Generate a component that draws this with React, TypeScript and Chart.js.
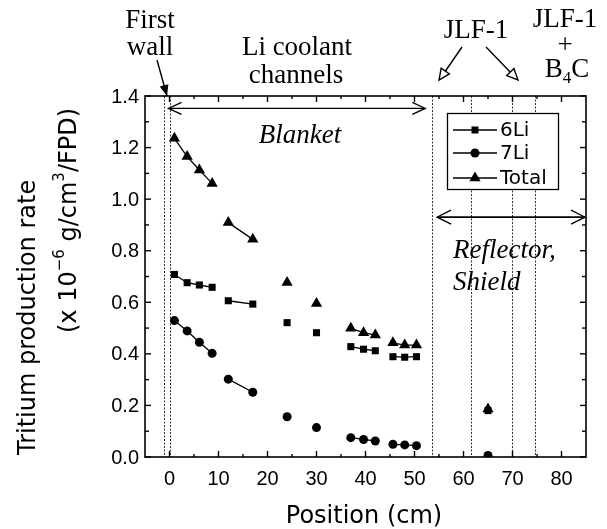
import React, { useEffect, useRef } from 'react';
import { Chart, registerables } from 'chart.js';

Chart.register(...registerables);

// ---- data ----
const positions = [1, 3.6, 6.1, 8.7, 12, 17, 24, 30, 37, 39.6, 42, 45.6, 48, 50.4, 65];
const segments = [0, 0, 0, 0, 1, 1, 2, 3, 4, 4, 4, 5, 5, 5, 6];
const li6Values = [0.708, 0.676, 0.667, 0.658, 0.606, 0.593, 0.521, 0.482, 0.428, 0.418, 0.412, 0.389, 0.387, 0.389, 0.18];
const li7Values = [0.529, 0.489, 0.445, 0.402, 0.302, 0.251, 0.156, 0.114, 0.075, 0.068, 0.062, 0.049, 0.047, 0.044, 0.006];
const totalValues = [1.236, 1.165, 1.113, 1.061, 0.909, 0.844, 0.677, 0.595, 0.499, 0.482, 0.473, 0.443, 0.434, 0.434, 0.186];
const seriesNames = ['6Li', '7Li', 'Total'];

const xTickValues = [0, 10, 20, 30, 40, 50, 60, 70, 80];
const xMinorValues = [5, 15, 25, 35, 45, 55, 65, 75];
const yTickValues = [0, 0.2, 0.4, 0.6, 0.8, 1.0, 1.2, 1.4];
const yMinorValues = [0.1, 0.3, 0.5, 0.7, 0.9, 1.1, 1.3];
const boundaryLines = [-1.1, 0.1, 53.6, 61.5, 69.8, 74.5];
const blanketSpan = [-0.2, 52.2];
const blanketLevel = 1.352;
const reflectorSpan = [54.6, 84.8];
const reflectorLevel = 0.93;

const X_MIN = -5;
const X_MAX = 85;
const Y_MIN = 0;
const Y_MAX = 1.4;

function buildPoints(values: number[]) {
  const pts: { x: number; y: number | null }[] = [];
  values.forEach((v, i) => {
    if (i > 0 && segments[i] !== segments[i - 1]) {
      pts.push({ x: (positions[i] + positions[i - 1]) / 2, y: null });
    }
    pts.push({ x: positions[i], y: v });
  });
  return pts;
}

const SERIF = '"Liberation Serif", "Times New Roman", serif';
const SANS = '"DejaVu Sans", sans-serif';
const TICKFONT = '"Liberation Sans", Arial, sans-serif';

function drawMarker(ctx: CanvasRenderingContext2D, style: string, x: number, y: number) {
  ctx.fillStyle = '#000';
  ctx.beginPath();
  if (style === 'rect') {
    ctx.rect(x - 3.5, y - 3.5, 7, 7);
  } else if (style === 'circle') {
    ctx.arc(x, y, 4.5, 0, Math.PI * 2);
  } else {
    const r = 6.5;
    ctx.moveTo(x, y - r);
    ctx.lineTo(x + r * Math.sin(Math.PI / 3), y + r * 0.5);
    ctx.lineTo(x - r * Math.sin(Math.PI / 3), y + r * 0.5);
    ctx.closePath();
  }
  ctx.fill();
}

function arrowHead(ctx: CanvasRenderingContext2D, fx: number, fy: number, tx: number, ty: number, len: number, half: number, mode: 'open' | 'filled' | 'hollow') {
  const ang = Math.atan2(ty - fy, tx - fx);
  const bx = tx - Math.cos(ang) * len;
  const by = ty - Math.sin(ang) * len;
  const px = -Math.sin(ang) * half;
  const py = Math.cos(ang) * half;
  ctx.beginPath();
  if (mode === 'open') {
    ctx.moveTo(bx + px, by + py);
    ctx.lineTo(tx, ty);
    ctx.lineTo(bx - px, by - py);
    ctx.stroke();
  } else {
    ctx.moveTo(bx + px, by + py);
    ctx.lineTo(tx, ty);
    ctx.lineTo(bx - px, by - py);
    ctx.closePath();
    if (mode === 'filled') {
      ctx.fillStyle = '#000';
      ctx.fill();
    } else {
      ctx.fillStyle = '#fff';
      ctx.fill();
      ctx.stroke();
    }
  }
}

const overlay = {
  id: 'overlay',
  beforeDatasetsDraw(chart: any) {
    const { ctx, chartArea: a } = chart;
    const xs = chart.scales.x;
    ctx.save();
    ctx.strokeStyle = '#333';
    ctx.lineWidth = 1;
    ctx.setLineDash([2, 1.5]);
    boundaryLines.forEach((v) => {
      const px = Math.round(xs.getPixelForValue(v)) + 0.5;
      ctx.beginPath();
      ctx.moveTo(px, a.top);
      ctx.lineTo(px, a.bottom);
      ctx.stroke();
    });
    ctx.restore();
  },
  afterDraw(chart: any) {
    const { ctx, chartArea: a } = chart;
    const xs = chart.scales.x;
    const ys = chart.scales.y;
    ctx.save();
    ctx.strokeStyle = '#000';
    ctx.fillStyle = '#000';
    ctx.setLineDash([]);

    // frame
    ctx.lineWidth = 1.6;
    ctx.strokeRect(a.left, a.top, a.right - a.left, a.bottom - a.top);

    // ticks (inward, all four sides)
    ctx.lineWidth = 1.4;
    const tick = (x1: number, y1: number, x2: number, y2: number) => {
      ctx.beginPath();
      ctx.moveTo(x1, y1);
      ctx.lineTo(x2, y2);
      ctx.stroke();
    };
    xTickValues.forEach((v) => {
      const p = xs.getPixelForValue(v);
      tick(p, a.bottom, p, a.bottom - 6);
      tick(p, a.top, p, a.top + 6);
    });
    xMinorValues.forEach((v) => {
      const p = xs.getPixelForValue(v);
      tick(p, a.bottom, p, a.bottom - 3);
      tick(p, a.top, p, a.top + 3);
    });
    yTickValues.forEach((v) => {
      const p = ys.getPixelForValue(v);
      tick(a.left, p, a.left + 6, p);
      tick(a.right, p, a.right - 6, p);
    });
    yMinorValues.forEach((v) => {
      const p = ys.getPixelForValue(v);
      tick(a.left, p, a.left + 4, p);
      tick(a.right, p, a.right - 4, p);
    });

    // tick labels
    ctx.font = `20px ${TICKFONT}`;
    ctx.textAlign = 'center';
    ctx.textBaseline = 'middle';
    xTickValues.forEach((v) => {
      ctx.fillText(String(v), xs.getPixelForValue(v), a.bottom + 22);
    });
    ctx.textAlign = 'right';
    yTickValues.forEach((v) => {
      ctx.fillText(v.toFixed(1), a.left - 6, ys.getPixelForValue(v) + 1);
    });

    // x title
    ctx.font = `24px ${SANS}`;
    ctx.textAlign = 'center';
    ctx.textBaseline = 'alphabetic';
    ctx.fillText('Position (cm)', 364, 523);

    // y title (rotated)
    ctx.save();
    ctx.translate(35, 0);
    ctx.rotate(-Math.PI / 2);
    ctx.textAlign = 'left';
    ctx.font = `24px ${SANS}`;
    ctx.fillText('Tritium production rate', -455, 0);
    ctx.restore();

    ctx.save();
    ctx.translate(76, 0);
    ctx.rotate(-Math.PI / 2);
    ctx.textAlign = 'left';
    let cx = -333;
    const piece = (t: string, size: number, dy: number) => {
      ctx.font = `${size}px ${SANS}`;
      ctx.fillText(t, cx, dy);
      cx += ctx.measureText(t).width;
    };
    piece('(x 10', 24, 0);
    piece('\u22126', 15, -12);
    piece(' g/cm', 24, 0);
    piece('3', 15, -12);
    piece('/FPD)', 24, 0);
    ctx.restore();

    // annotations above plot
    ctx.font = `27px ${SERIF}`;
    ctx.textAlign = 'center';
    ctx.fillText('First', 150, 28);
    ctx.fillText('wall', 150, 55);
    ctx.fillText('Li coolant', 297, 55);
    ctx.fillText('channels', 296, 83);
    ctx.fillText('JLF-1', 476, 38);
    ctx.fillText('JLF-1', 565, 27);
    ctx.fillText('+', 565, 53);
    // B4C with subscript
    ctx.textAlign = 'left';
    const bW = ctx.measureText('B').width;
    ctx.font = `17px ${SERIF}`;
    const sW = ctx.measureText('4').width;
    ctx.font = `27px ${SERIF}`;
    const cW = ctx.measureText('C').width;
    let bx = 567 - (bW + sW + cW) / 2;
    ctx.fillText('B', bx, 77);
    bx += bW;
    ctx.font = `17px ${SERIF}`;
    ctx.fillText('4', bx, 83);
    bx += sW;
    ctx.font = `27px ${SERIF}`;
    ctx.fillText('C', bx, 77);

    // arrows
    ctx.lineWidth = 1.4;
    ctx.strokeStyle = '#000';
    tick(157, 60, 167, 96);
    arrowHead(ctx, 157, 60, 167, 96, 11, 4.5, 'filled');
    tick(462, 47, 442, 76);
    arrowHead(ctx, 462, 47, 439, 80, 11, 5, 'hollow');
    tick(486, 47, 515, 77);
    arrowHead(ctx, 486, 47, 518, 80, 11, 5, 'hollow');

    // blanket double arrow
    const by1 = ys.getPixelForValue(blanketLevel);
    const bl = xs.getPixelForValue(blanketSpan[0]);
    const br = xs.getPixelForValue(blanketSpan[1]);
    ctx.lineWidth = 1.3;
    tick(bl, by1, br, by1);
    arrowHead(ctx, br, by1, bl, by1, 13, 6, 'open');
    arrowHead(ctx, bl, by1, br, by1, 13, 6, 'open');

    // reflector double arrow
    const ry = ys.getPixelForValue(reflectorLevel);
    const rl = xs.getPixelForValue(reflectorSpan[0]);
    const rr = xs.getPixelForValue(reflectorSpan[1]);
    ctx.lineWidth = 1.8;
    tick(rl, ry, rr, ry);
    ctx.lineWidth = 1.3;
    arrowHead(ctx, rr, ry, rl, ry, 14, 7, 'open');
    arrowHead(ctx, rl, ry, rr, ry, 14, 7, 'open');

    // italic labels
    ctx.fillStyle = '#000';
    ctx.font = `italic 27px ${SERIF}`;
    ctx.textAlign = 'center';
    ctx.fillText('Blanket', 300, 143);
    ctx.textAlign = 'left';
    ctx.fillText('Reflector,', 453, 258);
    ctx.fillText('Shield', 453, 290);

    // legend
    const lx = 447.5, ly = 113.5, lw = 111, lh = 76;
    ctx.fillStyle = '#fff';
    ctx.fillRect(lx, ly, lw, lh);
    ctx.lineWidth = 1.3;
    ctx.strokeStyle = '#000';
    ctx.strokeRect(lx, ly, lw, lh);
    const styles = ['rect', 'circle', 'triangle'];
    const rowsY = [130, 153, 178];
    ctx.font = `20px ${SANS}`;
    ctx.textBaseline = 'middle';
    seriesNames.forEach((name, i) => {
      const yy = rowsY[i];
      ctx.lineWidth = 1.3;
      tick(453, yy, 497, yy);
      drawMarker(ctx, styles[i], 475, yy);
      ctx.fillStyle = '#000';
      ctx.textAlign = 'left';
      ctx.fillText(name, 500, yy + 1);
    });

    ctx.restore();
  },
};

export default function App() {
  const ref = useRef<HTMLCanvasElement | null>(null);
  useEffect(() => {
    document.body.style.margin = '0';
    if (!ref.current) return;
    const mk = (label: string, values: number[], style: string, radius: number) => ({
      label,
      data: buildPoints(values),
      borderColor: '#000',
      backgroundColor: '#000',
      pointBackgroundColor: '#000',
      pointBorderColor: '#000',
      pointBorderWidth: 0,
      borderWidth: 1.3,
      pointStyle: style,
      pointRadius: radius,
      spanGaps: false,
      tension: 0,
      fill: false,
    });
    const chart = new Chart(ref.current, {
      type: 'line',
      data: {
        datasets: [
          mk(seriesNames[0], li6Values, 'rect', 5),
          mk(seriesNames[1], li7Values, 'circle', 4.5),
          mk(seriesNames[2], totalValues, 'triangle', 6.5),
        ] as any,
      },
      options: {
        animation: false,
        responsive: false,
        devicePixelRatio: 1,
        parsing: true,
        layout: { padding: { left: 145, right: 21, top: 96, bottom: 72 } },
        plugins: { legend: { display: false }, tooltip: { enabled: false } },
        scales: {
          x: { type: 'linear', min: X_MIN, max: X_MAX, display: false },
          y: { type: 'linear', min: Y_MIN, max: Y_MAX, display: false },
        },
      } as any,
      plugins: [overlay],
    });
    return () => chart.destroy();
  }, []);
  return (
    <div style={{ width: 607, height: 529, background: '#fff' }}>
      <canvas ref={ref} width={607} height={529} style={{ display: 'block' }} />
    </div>
  );
}
